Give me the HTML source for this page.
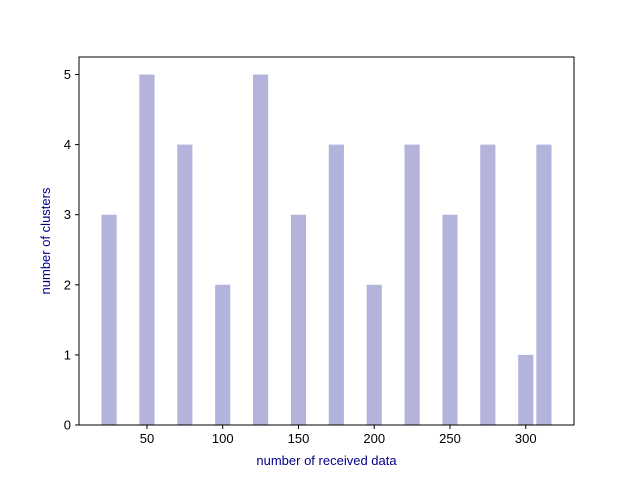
<!DOCTYPE html>
<html><head><meta charset="utf-8"><style>
body{margin:0;background:#fff;font-family:"Liberation Sans","DejaVu Sans",sans-serif}
</style></head><body>
<svg id="c" width="637" height="476" xmlns="http://www.w3.org/2000/svg"></svg>
<script>
const categories=[25,50,75,100,125,150,175,200,225,250,275,300,312];
const values=[3,5,4,2,5,3,4,2,4,3,4,1,4];
const xTicks=[50,100,150,200,250,300];
const yTicks=[0,1,2,3,4,5];
const L=79,R=574,T=57,B=425;
const xmin=5.15,xmax=331.85,ymin=0,ymax=5.25;
const xs=v=>L+(v-xmin)/(xmax-xmin)*(R-L);
const ys=v=>B-(v-ymin)/(ymax-ymin)*(B-T);
const svg=document.getElementById('c');
const NS='http://www.w3.org/2000/svg';
function mk(t,a,txt){const e=document.createElementNS(NS,t);for(const k in a)e.setAttribute(k,a[k]);if(txt!==undefined)e.textContent=txt;svg.appendChild(e);return e;}
categories.forEach((c,i)=>{
  const r=mk('rect',{x:xs(c-5),y:ys(values[i]),width:xs(c+5)-xs(c-5),height:ys(0)-ys(values[i]),fill:'#b3b3dc'});
  
  
});
const f=mk('rect',{x:L,y:T,width:R-L,height:B-T,fill:'none',stroke:'#000','stroke-width':1});


xTicks.forEach(t=>{
  const x=xs(t);
  mk('line',{x1:x,x2:x,y1:B,y2:B+4,stroke:'#000'});
  const l=mk('text',{x:x,y:B+18,'text-anchor':'middle','font-size':13,fill:'#000'},t);
  
  
});
yTicks.forEach(t=>{
  const y=ys(t);
  mk('line',{x1:L-4,x2:L,y1:y,y2:y,stroke:'#000'});
  const l=mk('text',{x:L-8,y:y+4.5,'text-anchor':'end','font-size':13,fill:'#000'},t);
  
  
});
const xt=mk('text',{x:(L+R)/2,y:465,'text-anchor':'middle','font-size':13,fill:'#00008b'},'number of received data');


const yt=mk('text',{x:0,y:0,'text-anchor':'middle','font-size':13,fill:'#00008b',transform:`translate(50,${(T+B)/2}) rotate(-90)`},'number of clusters');


</script>
</body></html>
